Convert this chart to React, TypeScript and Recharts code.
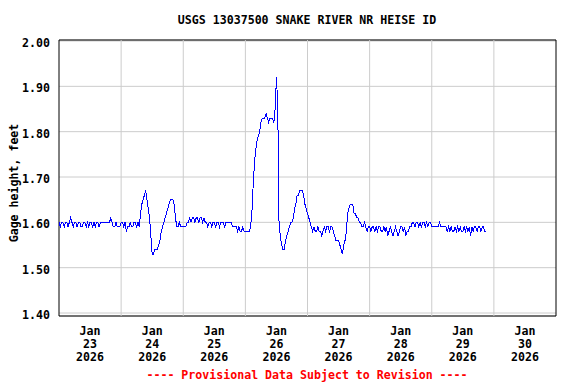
import { CartesianGrid, Line, LineChart, ReferenceArea, ReferenceLine, XAxis, YAxis } from "recharts";

// gage height, feet, every 30 minutes starting Jan 23 00:00
const stepHours = 0.5;
const jan23 = [
  1.60, 1.59, 1.60, 1.60, 1.59, 1.60, 1.60, 1.59, 1.60, 1.61, 1.60, 1.59,
  1.60, 1.60, 1.59, 1.60, 1.60, 1.59, 1.59, 1.60, 1.60, 1.59, 1.60, 1.59,
  1.60, 1.60, 1.59, 1.60, 1.59, 1.60, 1.60, 1.59, 1.60, 1.60, 1.60, 1.60,
  1.60, 1.60, 1.60, 1.60, 1.61, 1.60, 1.59, 1.59, 1.60, 1.59, 1.59, 1.59,
];
const jan24 = [
  1.60, 1.60, 1.59, 1.60, 1.58, 1.59, 1.59, 1.60, 1.59, 1.59, 1.60, 1.60,
  1.59, 1.60, 1.59, 1.62, 1.64, 1.65, 1.66, 1.67, 1.65, 1.63, 1.61, 1.57,
  1.53, 1.53, 1.54, 1.54, 1.54, 1.55, 1.56, 1.58, 1.59, 1.60, 1.61, 1.62,
  1.63, 1.64, 1.65, 1.65, 1.65, 1.64, 1.61, 1.59, 1.59, 1.60, 1.59, 1.59,
];
const jan25 = [
  1.59, 1.59, 1.59, 1.60, 1.60, 1.61, 1.60, 1.61, 1.61, 1.60, 1.61, 1.61,
  1.60, 1.61, 1.61, 1.60, 1.61, 1.60, 1.60, 1.59, 1.60, 1.60, 1.59, 1.60,
  1.60, 1.59, 1.60, 1.60, 1.59, 1.60, 1.60, 1.60, 1.59, 1.60, 1.60, 1.60,
  1.60, 1.60, 1.59, 1.59, 1.59, 1.59, 1.58, 1.59, 1.58, 1.58, 1.59, 1.58,
];
const jan26 = [
  1.58, 1.58, 1.58, 1.58, 1.59, 1.62, 1.68, 1.73, 1.76, 1.78, 1.79, 1.80,
  1.82, 1.83, 1.83, 1.83, 1.84, 1.83, 1.82, 1.83, 1.83, 1.83, 1.82, 1.85,
  1.92, 1.86, 1.60, 1.57, 1.55, 1.54, 1.54, 1.56, 1.57, 1.58, 1.59, 1.60,
  1.60, 1.61, 1.63, 1.64, 1.66, 1.66, 1.67, 1.67, 1.67, 1.66, 1.64, 1.63,
];
const jan27 = [
  1.62, 1.61, 1.60, 1.59, 1.58, 1.59, 1.58, 1.58, 1.59, 1.58, 1.58, 1.57,
  1.58, 1.59, 1.58, 1.59, 1.59, 1.58, 1.59, 1.59, 1.58, 1.57, 1.56, 1.56,
  1.56, 1.55, 1.54, 1.53, 1.55, 1.56, 1.58, 1.62, 1.63, 1.64, 1.64, 1.64,
  1.62, 1.62, 1.61, 1.61, 1.60, 1.60, 1.59, 1.59, 1.60, 1.59, 1.58, 1.59,
];
const jan28 = [
  1.59, 1.58, 1.59, 1.59, 1.58, 1.59, 1.58, 1.59, 1.59, 1.58, 1.58, 1.59,
  1.58, 1.59, 1.57, 1.58, 1.59, 1.58, 1.57, 1.58, 1.59, 1.58, 1.57, 1.58,
  1.59, 1.59, 1.58, 1.59, 1.57, 1.58, 1.58, 1.59, 1.59, 1.60, 1.60, 1.59,
  1.60, 1.60, 1.59, 1.60, 1.59, 1.60, 1.60, 1.59, 1.60, 1.59, 1.60, 1.60,
];
const jan29 = [
  1.59, 1.59, 1.59, 1.59, 1.59, 1.59, 1.60, 1.59, 1.59, 1.59, 1.59, 1.59,
  1.58, 1.59, 1.58, 1.59, 1.58, 1.58, 1.59, 1.58, 1.59, 1.58, 1.59, 1.58,
  1.58, 1.59, 1.58, 1.59, 1.58, 1.59, 1.57, 1.59, 1.58, 1.59, 1.59, 1.58,
  1.59, 1.59, 1.58, 1.59, 1.59, 1.58, 1.58,
];
const gageHeight = [...jan23, ...jan24, ...jan25, ...jan26, ...jan27, ...jan28, ...jan29];

const monthLabel = "Jan";
const yearLabel = "2026";
const dayLabels = ["23", "24", "25", "26", "27", "28", "29", "30"];
const yTicks = [1.4, 1.5, 1.6, 1.7, 1.8, 1.9, 2.0];
const yDomain: [number, number] = [1.3934, 2.0022];
const xDomain: [number, number] = [0, dayLabels.length * 24];
const dayTicks = dayLabels.map((_, i) => i * 24 + 12);
const midnights = dayLabels.slice(1).map((_, i) => (i + 1) * 24);

const data = gageHeight.map((height, i) => ({ hour: i * stepHours, height }));

const FONT = '"DejaVu Sans Mono", monospace';
const FONT_SIZE = 11.6;

function DayTick({ x, y, payload }: { x: number; y: number; payload: { value: number } }) {
  const i = Math.round((payload.value - 12) / 24);
  return (
    <text x={x} y={y} textAnchor="middle" fontFamily={FONT} fontWeight="bold" fontSize={FONT_SIZE} fill="#000">
      <tspan x={x} dy={19}>{monthLabel}</tspan>
      <tspan x={x} dy={13}>{dayLabels[i]}</tspan>
      <tspan x={x} dy={13}>{yearLabel}</tspan>
    </text>
  );
}

function HeightTick({ x, y, payload }: { x: number; y: number; payload: { value: number } }) {
  return (
    <text x={x} y={y + 6} textAnchor="end" fontFamily={FONT} fontWeight="bold" fontSize={FONT_SIZE} fill="#000">
      {payload.value.toFixed(2)}
    </text>
  );
}

export default function App() {
  return (
    <div style={{ position: "absolute", left: 0, top: 0, width: 576, height: 384, background: "#fff" }}>
      <LineChart width={576} height={384} data={data} margin={{ top: 40, right: 20, bottom: 0, left: 0 }}>
        <CartesianGrid vertical={false} stroke="#cccccc" />
        {midnights.map((m) => (
          <ReferenceLine key={m} x={m} stroke="#cccccc" />
        ))}
        <XAxis
          dataKey="hour"
          type="number"
          domain={xDomain}
          ticks={dayTicks}
          height={68}
          tickSize={0}
          tickMargin={0}
          axisLine={false}
          tick={DayTick}
          interval={0}
        />
        <YAxis
          type="number"
          domain={yDomain}
          ticks={yTicks}
          allowDataOverflow
          width={59}
          tickSize={0}
          tickMargin={9}
          axisLine={false}
          tick={HeightTick}
          interval={0}
        />
        <Line
          dataKey="height"
          type="linear"
          stroke="#0000ff"
          strokeWidth={1}
          dot={false}
          shapeRendering="crispEdges"
          isAnimationActive={false}
        />
        <ReferenceArea x1={xDomain[0]} x2={xDomain[1]} y1={yDomain[0]} y2={yDomain[1]} fill="none" stroke="#000" strokeWidth={1} />
      </LineChart>
      <svg width={576} height={384} style={{ position: "absolute", left: 0, top: 0, pointerEvents: "none" }}>
        <text x={307} y={24} textAnchor="middle" fontFamily={FONT} fontWeight="bold" fontSize={FONT_SIZE} fill="#000">
          USGS 13037500 SNAKE RIVER NR HEISE ID
        </text>
        <text
          x={0}
          y={0}
          transform="translate(18 183) rotate(-90)"
          textAnchor="middle"
          fontFamily={FONT}
          fontWeight="bold"
          fontSize={FONT_SIZE}
          fill="#000"
        >
          Gage height, feet
        </text>
        <text x={307} y={379} textAnchor="middle" fontFamily={FONT} fontWeight="bold" fontSize={FONT_SIZE} fill="#ff0000">
          ---- Provisional Data Subject to Revision ----
        </text>
      </svg>
    </div>
  );
}
